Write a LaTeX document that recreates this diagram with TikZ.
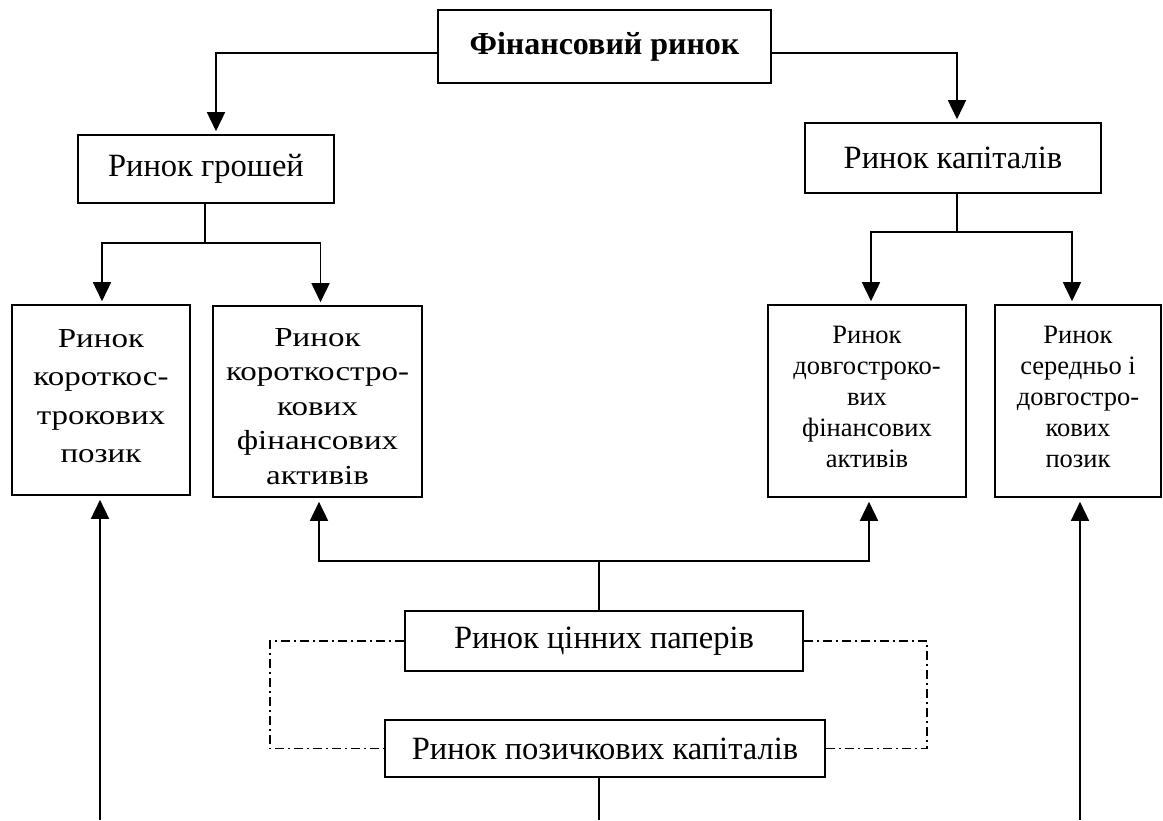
\documentclass[tikz,border=0pt]{standalone}
\usepackage{fontspec}
\setmainfont{Liberation Serif}
\newfontfamily\wideserif[FakeStretch=1.2]{Liberation Serif}
\usetikzlibrary{arrows.meta}
\begin{document}
\begin{tikzpicture}[x=1pt,y=-1pt,
  box/.style={draw, line width=1.6pt, inner sep=0pt, align=center},
  txt/.style={inner sep=0pt, align=center},
  widetxt/.style={txt, font=\wideserif\fontsize{27.5}{38.5}\selectfont},
  narrowtxt/.style={txt, font=\fontsize{26.5}{31}\selectfont},
  link/.style={line width=1.6pt},
  arr/.style={link, -{Triangle[length=19pt,width=18pt]}, shorten >=3pt},
  dashdot/.style={line width=1.2pt, dash pattern=on 9pt off 4pt on 2pt off 4pt}]
\useasboundingbox (0,0) rectangle (1163,820);
\fill[white] (0,0) rectangle (1163,820);

% single-line boxes
\node[box, minimum width=333pt, minimum height=73pt, font=\fontsize{32}{36}\selectfont\bfseries] (fin) at (604.5,46.5) {Фінансовий ринок};
\node[box, minimum width=256pt, minimum height=68pt, font=\fontsize{32.5}{36}\selectfont] (grosh) at (206,169) {Ринок грошей};
\node[box, minimum width=296pt, minimum height=70pt, font=\fontsize{32.5}{36}\selectfont] (kap) at (953,158) {Ринок капіталів};
\node[box, minimum width=398pt, minimum height=60pt, font=\fontsize{32.5}{36}\selectfont] (cp) at (604,641) {Ринок цінних паперів};
\node[box, minimum width=440pt, minimum height=57pt, font=\fontsize{32.5}{36}\selectfont] (pk) at (605,748.5) {Ринок позичкових капіталів};

% tall boxes, with their text set separately
\node[box, minimum width=178pt, minimum height=190pt] (b1) at (101,400) {};
\node[box, minimum width=209pt, minimum height=191pt] (b2) at (317.5,401.5) {};
\node[box, minimum width=198pt, minimum height=192pt] (b3) at (867,401) {};
\node[box, minimum width=166pt, minimum height=192pt] (b4) at (1078,401) {};
\node[widetxt] (b1t) at ([yshift=4pt]b1.center) {Ринок\\короткос-\\трокових\\позик};
\node[widetxt, font=\wideserif\fontsize{27.5}{34.5}\selectfont] (b2t) at ([yshift=-5pt]b2.center) {Ринок\\короткостро-\\кових\\фінансових\\активів};
\node[narrowtxt] (b3t) at ([yshift=4pt]b3.center) {Ринок\\довгостроко-\\вих\\фінансових\\активів};
\node[narrowtxt] (b4t) at ([yshift=4pt]b4.center) {Ринок\\середньо і\\довгостро-\\кових\\позик};

% junction points and free ends
\coordinate (tl) at (216,53);
\coordinate (tr) at (957,53);
\coordinate (g) at (205,243);
\coordinate (k) at (957,232);
\coordinate (c) at (599,561);
\coordinate (dl) at (270,0);
\coordinate (dr) at (927,0);
\coordinate (bot) at (599,820);
\coordinate (l1) at (100,820);
\coordinate (r1) at (1080,820);

% top level
\draw[arr] (fin.west |- tl) -| (tl |- grosh.north);
\draw[arr] (fin.east |- tr) -| (tr |- kap.north);

% money market branches
\draw[link] (grosh.south -| g) -- (g);
\draw[arr] (g) -| ([xshift=1pt]b1.north);
\draw[arr] (g) -| ([xshift=3pt]b2.north);

% capital market branches
\draw[link] (kap.south -| k) -- (k);
\draw[arr] (k) -| ([xshift=4pt]b3.north);
\draw[arr] (k) -| ([xshift=-6pt]b4.north);

% securities market
\draw[link] (cp.north -| c) -- (c);
\draw[arr, shorten >=4pt] (c) -| ([xshift=1.5pt]b2.south);
\draw[arr, shorten >=4pt] (c) -| ([xshift=2pt]b3.south);

% dash-dot links between the two lower boxes
\draw[dashdot] (cp.west) -| (dl |- pk.west) -- (pk.west);
\draw[dashdot] (cp.east) -| (dr |- pk.east) -- (pk.east);

% lines entering from below
\draw[link] (pk.south -| bot) -- (bot);
\draw[arr, shorten >=4pt] (l1) -- (l1 |- b1.south);
\draw[arr, shorten >=4pt] (r1) -- (r1 |- b4.south);
\end{tikzpicture}
\end{document}
